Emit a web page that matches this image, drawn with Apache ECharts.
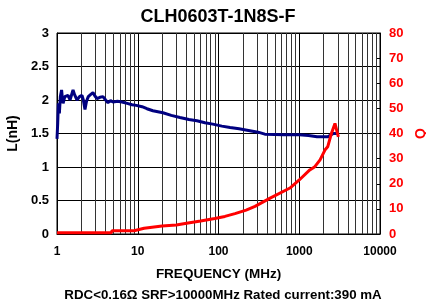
<!DOCTYPE html>
<html>
<head>
<meta charset="utf-8">
<script src="https://cdn.jsdelivr.net/npm/echarts@6/dist/echarts.min.js"></script>
<style>
  html, body { margin: 0; padding: 0; background: #fff; }
  #chart { width: 426px; height: 306px; }
</style>
</head>
<body>
<div id="chart"></div>
<script>
// inductance curve (MHz, nH)
const freqL = [1.00, 1.02, 1.04, 1.07, 1.10, 1.14, 1.17, 1.19, 1.25, 1.37, 1.45, 1.58, 1.65, 1.77, 1.90, 2.04, 2.12, 2.22, 2.32, 2.44, 2.60, 2.79, 2.95, 3.13, 3.40, 3.71, 4.00, 4.28, 4.60, 4.94, 5.6, 6.38, 7.4, 8.5, 9.6, 11.3, 13, 15.4, 20.5, 26, 33.3, 43, 54, 68, 85, 110, 139, 180, 226, 309, 375, 500, 630, 1000, 1300, 1660, 2250, 2640, 2950]
const valL = [1.42, 1.65, 1.95, 1.80, 2.05, 2.15, 2.00, 1.95, 2.05, 2.07, 2.00, 2.15, 2.08, 2.00, 2.05, 2.07, 2.00, 1.86, 1.98, 2.05, 2.08, 2.11, 2.06, 2.02, 2.04, 2.05, 2.00, 1.96, 1.99, 1.97, 1.98, 1.97, 1.95, 1.93, 1.92, 1.90, 1.87, 1.84, 1.81, 1.77, 1.74, 1.71, 1.69, 1.66, 1.64, 1.61, 1.59, 1.57, 1.55, 1.52, 1.49, 1.485, 1.48, 1.48, 1.47, 1.45, 1.45, 1.50, 1.50]
// Q curve
const freqQ = [1, 4.7, 4.8, 9.0, 9.2, 12, 20, 30, 42, 60, 90, 120, 160, 220, 283, 436, 767, 1000, 1350, 1560, 1810, 2080, 2250, 2500, 2770, 2900, 3050]
const valQ = [0.5, 0.5, 1.3, 1.3, 2.0, 2.3, 3.2, 3.6, 4.4, 5.2, 6.2, 7.0, 8.1, 9.5, 11.0, 14.3, 18.3, 21.5, 25.5, 26.8, 29.5, 33.4, 34.7, 40, 44, 44.7, 38.7]
// minor vertical grid lines
const minorFreqs = []
for (const d of [1, 10, 100, 1000]) {
  for (let k = 2; k <= 9; k++) minorFreqs.push(k * d)
}

const font = 'Arial, "Liberation Sans", sans-serif'
const myChart = echarts.init(document.getElementById('chart'))

myChart.setOption({
  animation: false,
  title: [
    {
      text: 'CLH0603T-1N8S-F',
      left: 213,
      top: 3,
      textAlign: 'center',
      textStyle: { fontFamily: font, fontSize: 18, fontWeight: 'bold', color: '#000' },
    },
    {
      text: 'RDC<0.16Ω SRF>10000MHz Rated current:390 mA',
      left: 218,
      top: 284,
      textAlign: 'center',
      textStyle: { fontFamily: font, fontSize: 13.3, fontWeight: 'bold', color: '#000' },
    },
  ],
  grid: {
    left: 57,
    right: 46,
    top: 33,
    bottom: 72,
    outerBoundsMode: 'none',
    show: true,
    borderColor: '#000',
    borderWidth: 1,
  },
  xAxis: {
    type: 'log',
    logBase: 10,
    min: 1,
    max: 10000,
    name: 'FREQUENCY (MHz)',
    nameLocation: 'middle',
    nameGap: 33,
    nameTextStyle: { fontFamily: font, fontSize: 13.5, fontWeight: 'bold', color: '#000' },
    axisLine: { lineStyle: { color: '#000' } },
    axisTick: { show: false },
    axisLabel: {
      fontFamily: font, fontSize: 12, fontWeight: 'bold', color: '#000', margin: 12,
      formatter: v => String(v),
    },
    splitLine: { show: true, lineStyle: { color: '#000', width: 1 } },
  },
  yAxis: [
    {
      type: 'value',
      min: 0,
      max: 3,
      interval: 0.5,
      name: 'L(nH)',
      nameLocation: 'middle',
      nameGap: 33,
      nameRotate: 90,
      nameTextStyle: { fontFamily: font, fontSize: 14, fontWeight: 'bold', color: '#000' },
      axisLine: { show: true, lineStyle: { color: '#000' } },
      axisTick: { show: false },
      axisLabel: { fontFamily: font, fontSize: 13, fontWeight: 'bold', color: '#000', margin: 8 },
      splitLine: { show: true, lineStyle: { color: '#000', width: 1 } },
    },
    {
      type: 'value',
      min: 0,
      max: 80,
      interval: 10,
      name: 'Q',
      nameLocation: 'middle',
      nameGap: 33,
      nameRotate: 90,
      nameTextStyle: { fontFamily: font, fontSize: 14, fontWeight: 'bold', color: '#ff0000' },
      axisLine: { show: true, lineStyle: { color: '#000' } },
      axisTick: { show: true, inside: true, length: 4, lineStyle: { color: '#000' } },
      axisLabel: { fontFamily: font, fontSize: 13, fontWeight: 'bold', color: '#ff0000', margin: 9 },
      splitLine: { show: false },
    },
  ],
  series: [
    {
      type: 'line',
      yAxisIndex: 0,
      showSymbol: false,
      symbol: 'none',
      lineStyle: { color: '#000080', width: 3 },
      data: freqL.map((f, i) => [f, valL[i]]),
      markLine: {
        silent: true,
        symbol: 'none',
        label: { show: false },
        lineStyle: { color: '#333', width: 1, type: 'solid' },
        data: minorFreqs.map(f => ({ xAxis: f })),
        z: 1,
      },
      z: 3,
    },
    {
      type: 'line',
      yAxisIndex: 1,
      showSymbol: false,
      symbol: 'none',
      lineStyle: { color: '#ff0000', width: 3 },
      data: freqQ.map((f, i) => [f, valQ[i]]),
      z: 4,
    },
  ],
})
</script>
</body>
</html>
